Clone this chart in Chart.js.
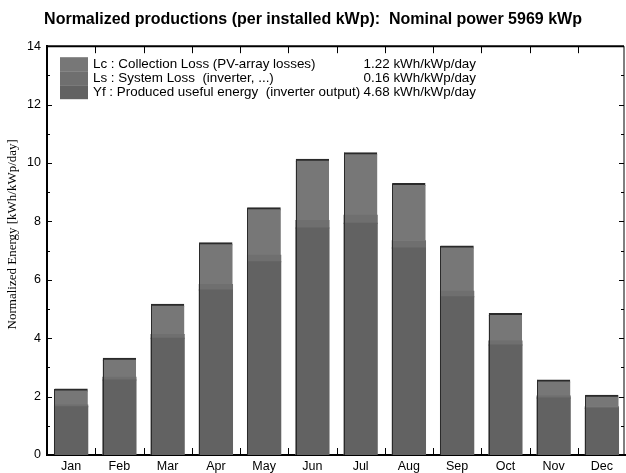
<!DOCTYPE html>
<html>
<head>
<meta charset="utf-8">
<script src="https://cdn.jsdelivr.net/npm/chart.js@4.4.1/dist/chart.umd.min.js"></script>
<style>
  html, body { margin: 0; padding: 0; background: #fff; }
  canvas { display: block; }
</style>
</head>
<body>
<canvas id="c" width="626" height="473"></canvas>
<script>
// ---- data (kWh/kWp/day) ----
const months = ['Jan','Feb','Mar','Apr','May','Jun','Jul','Aug','Sep','Oct','Nov','Dec'];
const yfValues = [1.65, 2.57, 4.00, 5.65, 6.62, 7.77, 7.94, 7.09, 5.42, 3.77, 1.95, 1.60];
const lsValues = [0.06, 0.09, 0.13, 0.19, 0.22, 0.26, 0.27, 0.25, 0.19, 0.13, 0.07, 0.05];
const lcValues = [0.55, 0.65, 1.03, 1.43, 1.63, 2.10, 2.14, 1.96, 1.55, 0.95, 0.55, 0.40];
const legendNames = ['Lc : Collection Loss (PV-array losses)',
                     'Ls : System Loss  (inverter, ...)',
                     'Yf : Produced useful energy  (inverter output)'];
const legendValues = ['1.22 kWh/kWp/day', '0.16 kWh/kWp/day', '4.68 kWh/kWp/day'];
const yTicks = [0, 2, 4, 6, 8, 10, 12, 14];
const titleText = 'Normalized productions (per installed kWp):  Nominal power 5969 kWp';
const yTitle = 'Normalized Energy [kWh/kWp/day]';

const colLc = '#777777', colLs = '#6f6f6f', colYf = '#626262';

const frameTicks = {
  id: 'frameTicks',
  afterDatasetsDraw(chart) {
    const { ctx, chartArea: a, scales: { x, y } } = chart;
    const rx = a.right - 2;
    ctx.save();
    // dark left edge of each bar
    ctx.strokeStyle = '#2a2a2a';
    ctx.lineWidth = 1;
    const meta = chart.getDatasetMeta(2);
    ctx.beginPath();
    meta.data.forEach(el => {
      const half = el.width / 2;
      const lx = Math.round(el.x - half) + 0.5;
      ctx.moveTo(lx, el.y); ctx.lineTo(lx, a.bottom);
    });
    ctx.stroke();
    ctx.strokeStyle = '#000';
    ctx.lineWidth = 2;
    ctx.beginPath();
    ctx.moveTo(a.left, a.top); ctx.lineTo(rx, a.top);
    ctx.stroke();
    ctx.lineWidth = 1;
    ctx.beginPath();
    ctx.moveTo(rx, a.top); ctx.lineTo(rx, a.bottom);
    ctx.stroke();
    const yMax = yTicks[yTicks.length - 1];
    ctx.beginPath();
    for (let v = yTicks[0]; v <= yMax; v += 1) {
      const py = Math.round(y.getPixelForValue(v)) + 0.5;
      const len = (v % 2 === 0) ? 5 : 3;
      ctx.moveTo(a.left, py); ctx.lineTo(a.left + len, py);
      ctx.moveTo(rx, py); ctx.lineTo(rx - len, py);
    }
    for (let i = 0; i < months.length - 1; i++) {
      const px = Math.round((x.getPixelForValue(i) + x.getPixelForValue(i + 1)) / 2) + 0.5;
      ctx.moveTo(px, a.bottom); ctx.lineTo(px, a.bottom - 7);
      ctx.moveTo(px, a.top); ctx.lineTo(px, a.top + 7);
    }
    ctx.stroke();
    ctx.restore();
  }
};

const legendBox = {
  id: 'legendBox',
  afterDraw(chart) {
    const { ctx, chartArea: a } = chart;
    const cols = [colLc, colLs, colYf];
    const x0 = a.left + 13, y0 = a.top + 11, lh = 14;
    ctx.save();
    for (let i = 0; i < 3; i++) {
      ctx.fillStyle = cols[i];
      ctx.fillRect(x0, y0 + i * lh, 28, lh);
    }
    ctx.fillStyle = '#000';
    ctx.font = '13.4px "Liberation Sans", Arial, sans-serif';
    ctx.textBaseline = 'middle';
    for (let i = 0; i < 3; i++) {
      const ty = y0 + i * lh + lh / 2;
      ctx.textAlign = 'left';
      ctx.fillText(legendNames[i], x0 + 33, ty);
      ctx.textAlign = 'right';
      ctx.fillText(legendValues[i], x0 + 416, ty);
    }
    // y-axis title
    ctx.translate(a.left - 34, a.top + (a.bottom - a.top) * 0.46);
    ctx.rotate(-Math.PI / 2);
    ctx.textAlign = 'center';
    ctx.font = '13px "Liberation Serif", "Times New Roman", serif';
    ctx.fillText(yTitle, 0, 0);
    ctx.restore();
  }
};

new Chart(document.getElementById('c'), {
  type: 'bar',
  data: {
    labels: months,
    datasets: [
      { label: 'Yf', data: yfValues, backgroundColor: colYf, borderWidth: 0 },
      { label: 'Ls', data: lsValues, backgroundColor: colLs, borderWidth: 0 },
      { label: 'Lc', data: lcValues, backgroundColor: colLc, borderColor: '#2a2a2a', borderWidth: { left: 0, top: 2, right: 0, bottom: 0 }, borderSkipped: 'start' }
    ]
  },
  options: {
    responsive: false,
    animation: false,
    layout: { padding: { left: 0, right: 0, top: 0, bottom: 0 } },
    datasets: { bar: { barPercentage: 0.69, categoryPercentage: 1.0, inflateAmount: 0.5 } },
    plugins: {
      legend: { display: false },
      tooltip: { enabled: false },
      title: {
        display: true,
        text: titleText,
        color: '#000',
        font: { family: '"Liberation Sans", Arial, sans-serif', size: 16, weight: 'bold' },
        padding: { top: 10, bottom: 17 }
      }
    },
    scales: {
      x: {
        stacked: true,
        grid: { display: false, drawTicks: false },
        border: { display: true, color: '#000', width: 2 },
        ticks: { color: '#000', font: { family: '"Liberation Sans", Arial, sans-serif', size: 12.5 }, padding: 4, maxRotation: 0 },
        afterFit(s) { s.height = 18; }
      },
      y: {
        stacked: true,
        min: yTicks[0],
        max: yTicks[yTicks.length - 1],
        afterBuildTicks(s) { s.ticks = yTicks.map(v => ({ value: v })); },
        grid: { display: false, drawTicks: false },
        border: { display: true, color: '#000', width: 2 },
        ticks: { color: '#000', font: { family: '"Liberation Sans", Arial, sans-serif', size: 12.5 }, padding: 6 },
        title: { display: false },
        afterFit(s) { s.width = 47; }
      }
    }
  },
  plugins: [frameTicks, legendBox]
});
</script>
</body>
</html>
